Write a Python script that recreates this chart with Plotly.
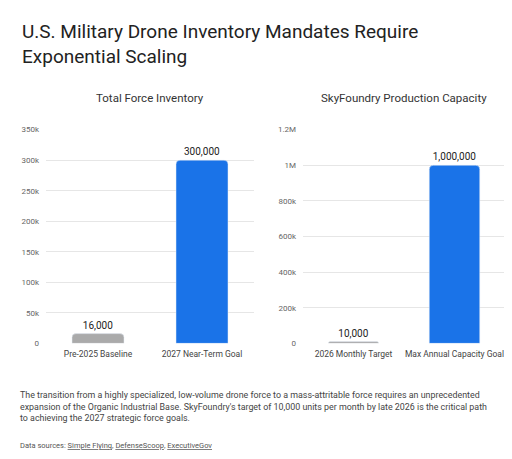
import plotly.graph_objects as go

left_cats = ["Pre-2025 Baseline", "2027 Near-Term Goal"]
left_vals = [16000, 300000]
right_cats = ["2026 Monthly Target", "Max Annual Capacity Goal"]
right_vals = [10000, 1000000]
colors = ["#aaaaaa", "#1a73e8"]

W, H = 512, 459
def py(p):  # pixel y -> paper
    return 1 - p / H

fig = go.Figure()
fig.add_bar(x=left_cats, y=left_vals, marker_color=colors, marker_cornerradius=4, width=0.5,
            text=[f"{v:,}" for v in left_vals], textposition="outside",
            textfont=dict(size=10, color="#222"), cliponaxis=False, xaxis="x", yaxis="y")
fig.add_bar(x=right_cats, y=right_vals, marker_color=colors, marker_cornerradius=4, width=0.5,
            text=[f"{v:,}" for v in right_vals], textposition="outside",
            textfont=dict(size=10, color="#222"), cliponaxis=False, xaxis="x2", yaxis="y2")

ax = dict(showgrid=True, gridcolor="#e6e6e6", zeroline=False, tickfont=dict(size=8, color="#666"),
          ticks="", showline=False, ticklabelstandoff=6)
xax = dict(tickfont=dict(size=8.5, color="#444"), ticklabelstandoff=4)
fig.update_layout(
    width=W, height=H, margin=dict(l=0, r=0, t=0, b=0), showlegend=False,
    plot_bgcolor="white", paper_bgcolor="white",
    font=dict(family="Roboto", color="#333"),
    xaxis=dict(domain=[38 / W, 246 / W], anchor="y", **xax),
    xaxis2=dict(domain=[295 / W, 497 / W], anchor="y2", **xax),
    yaxis=dict(domain=[py(338), py(120)], range=[0, 350000], dtick=50000, **ax),
    yaxis2=dict(domain=[py(338), py(120)], range=[0, 1200000], dtick=200000, anchor="x2", **ax),
)
fig.update_yaxes(tickformat="~s")

fig.add_annotation(text="U.S. Military Drone Inventory Mandates Require<br>Exponential Scaling",
                   x=12 / W, y=py(6), xref="paper", yref="paper", xanchor="left", yanchor="top",
                   showarrow=False, align="left", font=dict(size=19, color="#222"))
fig.add_annotation(text="Total Force Inventory", x=(38 + 246) / 2 / W, y=py(88), xref="paper", yref="paper",
                   xanchor="center", yanchor="middle", showarrow=False, font=dict(size=11.5, color="#333"))
fig.add_annotation(text="SkyFoundry Production Capacity", x=(295 + 497) / 2 / W, y=py(88), xref="paper",
                   yref="paper", xanchor="center", yanchor="middle", showarrow=False,
                   font=dict(size=11.5, color="#333"))
fig.add_annotation(
    text="The transition from a highly specialized, low-volume drone force to a mass-attritable force requires an unprecedented<br>"
         "expansion of the Organic Industrial Base. SkyFoundry's target of 10,000 units per month by late 2026 is the critical path<br>"
         "to achieving the 2027 strategic force goals.",
    x=10 / W, y=py(384), xref="paper", yref="paper", xanchor="left", yanchor="top", showarrow=False,
    align="left", font=dict(size=8.9, color="#444"))
fig.add_annotation(text="Data sources: <u>Simple Flying</u>, <u>DefenseScoop</u>, <u>ExecutiveGov</u>",
                   x=10 / W, y=py(436), xref="paper", yref="paper", xanchor="left", yanchor="top",
                   showarrow=False, font=dict(size=7.5, color="#555"))

fig.write_html("out.html")
